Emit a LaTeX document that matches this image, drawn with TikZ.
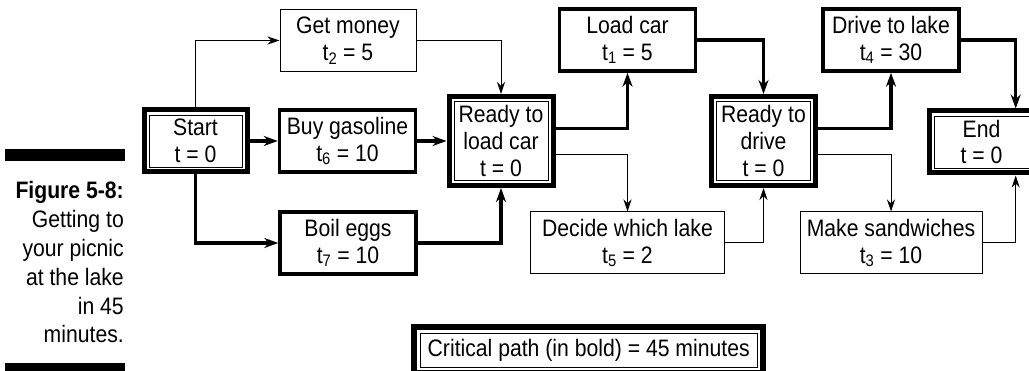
\documentclass[tikz,border=0pt]{standalone}
\usepackage{fontspec}
\setmainfont{Liberation Sans}[FakeStretch=0.89]
\usetikzlibrary{arrows.meta}

\newcommand\boxfont{\fontsize{23.8}{26.7}\selectfont}
\newcommand\capfont{\fontsize{23.8}{28.9}\selectfont}
\newcommand\tsub[1]{t\textsubscript{#1}}

\tikzset{
  task/.style={draw, line width=1pt, align=center, inner sep=2pt,
    minimum width=136pt, minimum height=62pt, font=\boxfont},
  crittask/.style={task, line width=3.5pt},
  event/.style={task, line width=5pt, minimum width=103pt,
    path picture={\draw[line width=0.8pt]
      ([shift={(#1,-#1)}]path picture bounding box.north west) rectangle
      ([shift={(-#1,#1)}]path picture bounding box.south east);}},
  event/.default=5pt,
  flow/.style={line width=1pt, -{Stealth[length=12pt,width=8pt]}},
  critflow/.style={line width=3.3pt, -{Stealth[length=14pt,width=10pt]}},
}

\begin{document}
\begin{tikzpicture}[x=1pt,y=-1pt]
    \useasboundingbox (0,0) rectangle (1029,371);

    % caption
    \fill (5,149) rectangle (125,161);
    \fill (5,363) rectangle (125,375);
    \node (caption) [anchor=north east, align=right, inner sep=0pt, font=\capfont] at (124,181)
        {\textbf{Figure 5-8:}\\Getting to\\your picnic\\at the lake\\in 45\\minutes.};

    % network
    \node (start) [event] at (195.5,141) {Start\\t = 0};
    \node (getmoney) [task] at (348,40.5) {Get money\\\tsub{2} = 5};
    \node (buygas) [crittask] at (347.5,141) {Buy gasoline\\\tsub{6} = 10};
    \node (boileggs) [crittask] at (348,243) {Boil eggs\\\tsub{7} = 10};
    \node (readyload) [event, minimum width=104pt, minimum height=89pt] at (501,141) {Ready to\\load car\\t = 0};
    \node (loadcar) [crittask] at (627.5,40) {Load car\\\tsub{1} = 5};
    \node (decide) [task, minimum width=194pt] at (627.5,243) {Decide which lake\\\tsub{5} = 2};
    \node (readydrive) [event, minimum width=103.5pt, minimum height=89pt] at (763.5,141) {Ready to\\drive\\t = 0};
    \node (drivelake) [crittask] at (891,40) {Drive to lake\\\tsub{4} = 30};
    \node (sandwiches) [task, minimum width=182pt] at (891,243) {Make sandwiches\\\tsub{3} = 10};
    \node (finish) [event, minimum width=105pt] at (981.5,142) {End\\t = 0};

    \node (critical) [event=6pt, line width=6pt, minimum width=349pt, minimum height=46pt] at (588.7,350)
        {Critical path (in bold) = 45 minutes};

    \draw[flow] (start.north) |- (getmoney.west);
    \draw[critflow] (start.east) -- (buygas.west);
    \draw[critflow] (start.south) |- (boileggs.west);
    \draw[flow] (getmoney.east) -| (readyload.north);
    \draw[critflow] (buygas.east) -- (readyload.west);
    \draw[critflow] (boileggs.east) -| (readyload.south);

    \draw[critflow] ([yshift=12.7pt]readyload.east) -| (loadcar.south);
    \draw[flow] ([yshift=-13.3pt]readyload.east) -| (decide.north);
    \draw[critflow] (loadcar.east) -| (readydrive.north);
    \draw[flow] (decide.east) -| (readydrive.south);

    \draw[critflow] ([yshift=12.7pt]readydrive.east) -| (drivelake.south);
    \draw[flow] ([yshift=-13.3pt]readydrive.east) -| (sandwiches.north);
    \draw[critflow] (drivelake.east) -| ([xshift=34.2pt]finish.north);
    \draw[flow] (sandwiches.east) -| ([xshift=34.2pt]finish.south);
\end{tikzpicture}
\end{document}
